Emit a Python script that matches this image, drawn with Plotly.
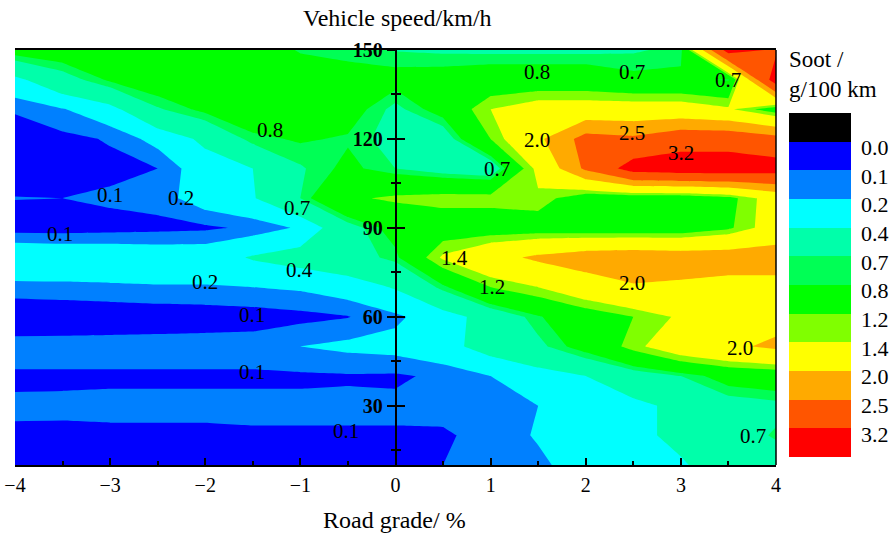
import plotly.graph_objects as go
import numpy as np

# ---------------- data ----------------
road_grade = [-4.0, -3.5, -3.0, -2.5, -2.0, -1.5, -1.0, -0.5, 0.0,
              0.5, 1.0, 1.5, 2.0, 2.5, 3.0, 3.5, 4.0]
speed = [10, 20, 30, 40, 50, 60, 70, 80, 90, 100, 110, 120, 130, 140, 150]

# soot (g/100 km) per speed row, columns follow road_grade
soot_150 = [0.90, 0.95, 1.00, 1.00, 1.00, 0.95, 0.78, 0.75, 0.69, 0.67, 0.66, 0.66, 0.66, 0.68, 0.74, 3.50, 3.10]
soot_140 = [0.34, 0.60, 0.83, 0.95, 1.00, 1.00, 0.95, 0.88, 0.88, 0.90, 0.95, 0.95, 0.95, 0.85, 0.85, 0.78, 3.60]
soot_130 = [0.11, 0.19, 0.32, 0.68, 0.85, 0.95, 1.00, 0.90, 0.65, 0.90, 1.40, 1.60, 1.60, 1.60, 1.60, 1.45, 1.00]
soot_120 = [0.05, 0.07, 0.11, 0.25, 0.45, 0.76, 0.82, 0.78, 0.62, 0.55, 1.20, 1.90, 2.70, 2.60, 2.90, 2.90, 2.70]
soot_110 = [0.05, 0.06, 0.07, 0.10, 0.30, 0.40, 0.68, 0.85, 0.70, 0.58, 0.50, 1.50, 2.60, 3.50, 3.60, 3.60, 3.50]
soot_100 = [0.103, 0.10, 0.12, 0.14, 0.28, 0.38, 0.70, 1.15, 1.25, 1.30, 1.30, 1.35, 0.95, 0.95, 0.95, 1.10, 1.60]
soot_90 = [0.05, 0.05, 0.06, 0.07, 0.08, 0.12, 0.22, 0.60, 0.90, 1.00, 1.00, 1.00, 0.95, 0.95, 0.95, 1.15, 1.60]
soot_80 = [0.35, 0.33, 0.32, 0.30, 0.30, 0.42, 0.50, 0.60, 0.75, 1.45, 1.80, 2.10, 2.30, 2.35, 2.30, 2.30, 2.30]
soot_70 = [0.16, 0.17, 0.18, 0.19, 0.19, 0.20, 0.22, 0.28, 0.42, 0.75, 1.20, 1.40, 1.70, 1.95, 1.90, 1.80, 1.80]
soot_60 = [0.005, 0.01, 0.02, 0.03, 0.04, 0.05, 0.07, 0.095, 0.17, 0.30, 0.50, 0.78, 1.00, 1.20, 1.45, 1.70, 1.80]
soot_50 = [0.15, 0.15, 0.15, 0.15, 0.15, 0.15, 0.20, 0.23, 0.25, 0.32, 0.50, 0.65, 0.90, 1.30, 1.70, 1.90, 2.10]
soot_40 = [0.085, 0.085, 0.085, 0.085, 0.085, 0.085, 0.085, 0.09, 0.085, 0.12, 0.20, 0.30, 0.40, 0.55, 0.70, 0.90, 0.95]
soot_30 = [0.113, 0.115, 0.12, 0.12, 0.12, 0.12, 0.12, 0.12, 0.12, 0.15, 0.19, 0.20, 0.30, 0.35, 0.45, 0.60, 0.65]
soot_20 = [0.088, 0.085, 0.085, 0.085, 0.085, 0.09, 0.09, 0.09, 0.09, 0.08, 0.15, 0.21, 0.30, 0.35, 0.45, 0.60, 0.72]
soot_10 = [0.05, 0.05, 0.05, 0.05, 0.05, 0.05, 0.05, 0.05, 0.05, 0.10, 0.15, 0.18, 0.25, 0.30, 0.38, 0.50, 0.60]

levels = [0.0, 0.1, 0.2, 0.4, 0.7, 0.8, 1.2, 1.4, 2.0, 2.5, 3.2]
level_text = ["0.0", "0.1", "0.2", "0.4", "0.7", "0.8", "1.2", "1.4", "2.0", "2.5", "3.2"]
band_colors = ["#000000", "#0000ff", "#0080ff", "#00ffff", "#00ffaa", "#00ff55",
               "#00ff00", "#80ff00", "#ffff00", "#ffaa00", "#ff5500", "#ff0000"]

# contour labels (value text at its position on the chart)
label_x = [-1.32, -3.0, -2.25, -1.04, -3.53, -1.01, -2.0, -1.51, -1.51, -0.52,
           1.49, 2.49, 3.5, 1.49, 2.49, 3.0, 1.07, 0.62, 1.01, 2.49, 3.62, 3.76]
label_y = [123.0, 101.1, 100.1, 96.7, 88.0, 75.9, 71.8, 60.6, 41.5, 21.6,
           142.6, 142.6, 140.0, 119.7, 122.0, 115.3, 109.9, 79.7, 70.1, 71.5, 49.6, 19.8]
label_text = ["0.8", "0.1", "0.2", "0.7", "0.1", "0.4", "0.2", "0.1", "0.1", "0.1",
              "0.8", "0.7", "0.7", "2.0", "2.5", "3.2", "0.7", "1.4", "1.2", "2.0", "2.0", "0.7"]

y_ticks = [30, 60, 90, 120, 150]
y_minor = [15, 45, 75, 105, 135]

# ---------------- figure ----------------
z = np.array([soot_10, soot_20, soot_30, soot_40, soot_50, soot_60, soot_70, soot_80,
              soot_90, soot_100, soot_110, soot_120, soot_130, soot_140, soot_150])

SERIF = "Liberation Serif"
fig = go.Figure()
# each layer fills the area where soot exceeds the level
for lv, col in zip(levels, band_colors[1:]):
    fig.add_trace(go.Contour(
        x=road_grade, y=speed, z=z,
        contours=dict(type="constraint", operation="<", value=lv),
        fillcolor=col, line=dict(width=0, color=col, smoothing=0),
        showscale=False, hoverinfo="skip", showlegend=False))

# colourbar (black at top, red at bottom)
n = len(band_colors)
cs = []
for k in range(n):
    c = band_colors[n - 1 - k]
    cs.append([k / n, c])
    cs.append([(k + 1) / n, c])
tickvals = [n - 1 - j - 0.2 for j in range(len(levels))]
fig.add_trace(go.Scatter(
    x=[None], y=[None], mode="markers", showlegend=False, hoverinfo="skip",
    marker=dict(color=[0], cmin=0, cmax=n, colorscale=cs, showscale=True,
                colorbar=dict(x=1.017, xanchor="left", xpad=0,
                              y=0.4337, yanchor="middle", ypad=0,
                              len=344, lenmode="pixels",
                              thickness=62, thicknessmode="pixels",
                              outlinewidth=0,
                              tickvals=tickvals, ticktext=level_text,
                              ticks="outside", ticklen=6, tickcolor="rgba(0,0,0,0)",
                              tickfont=dict(family=SERIF, size=22, color="black")))))

# dummy trace for the inner-tick overlay axis
fig.add_trace(go.Scatter(x=[None], y=[None], yaxis="y2", showlegend=False, hoverinfo="skip"))

for lx, ly, lt in zip(label_x, label_y, label_text):
    fig.add_annotation(x=lx, y=ly, text=lt, showarrow=False,
                       font=dict(family=SERIF, size=21, color="black"))

fig.add_annotation(xref="paper", yref="paper", x=0.503, y=1.077, yanchor="middle",
                   text="Vehicle speed/km/h",
                   showarrow=False, font=dict(family=SERIF, size=24, color="black"))
fig.add_annotation(xref="paper", yref="paper", x=0.499, y=-0.1325, yanchor="middle",
                   text="Road grade/ %",
                   showarrow=False, font=dict(family=SERIF, size=24, color="black"))
fig.add_annotation(xref="paper", yref="paper", x=1.015, y=1.012, xanchor="left", yanchor="top",
                   align="left", text="Soot /<br>g/100 km",
                   showarrow=False, font=dict(family=SERIF, size=23, color="black"))

fig.update_layout(
    width=890, height=538,
    margin=dict(l=15, r=114, t=50, b=73, autoexpand=False),
    plot_bgcolor="white", paper_bgcolor="white",
    font=dict(family=SERIF, color="black"),
    showlegend=False,
    xaxis=dict(range=[-4, 4], showline=True, linecolor="black", linewidth=1.5, mirror=True,
               ticks="inside", ticklen=7, tickwidth=1.5, tickcolor="black",
               tick0=0, dtick=1, showgrid=False, zeroline=False,
               minor=dict(dtick=0.5, ticks="inside", ticklen=4, tickwidth=1.5, tickcolor="black"),
               tickfont=dict(family=SERIF, size=20, color="black"), ticklabelstandoff=1),
    yaxis=dict(range=[10, 150], anchor="free", position=0.5, showline=True, linecolor="black",
               linewidth=1.5, ticks="outside", ticklen=8, tickwidth=1.5, tickcolor="black",
               tickvals=y_ticks, showgrid=False, zeroline=False,
               minor=dict(tickvals=y_minor, ticks="outside", ticklen=4, tickwidth=1.5, tickcolor="black"),
               tickfont=dict(family=SERIF, size=20, color="black", weight="bold")),
    yaxis2=dict(range=[10, 150], overlaying="y", anchor="free", position=0.5, showline=False,
                ticks="inside", ticklen=8, tickwidth=1.5, tickcolor="black",
                tickvals=y_ticks, showticklabels=False, showgrid=False, zeroline=False,
                minor=dict(tickvals=y_minor, ticks="inside", ticklen=4, tickwidth=1.5, tickcolor="black")),
    shapes=[dict(type="line", xref="paper", yref="paper", x0=1, x1=1, y0=0, y1=1,
                 line=dict(color="black", width=1.5))],
)

fig.write_html("out.html")
